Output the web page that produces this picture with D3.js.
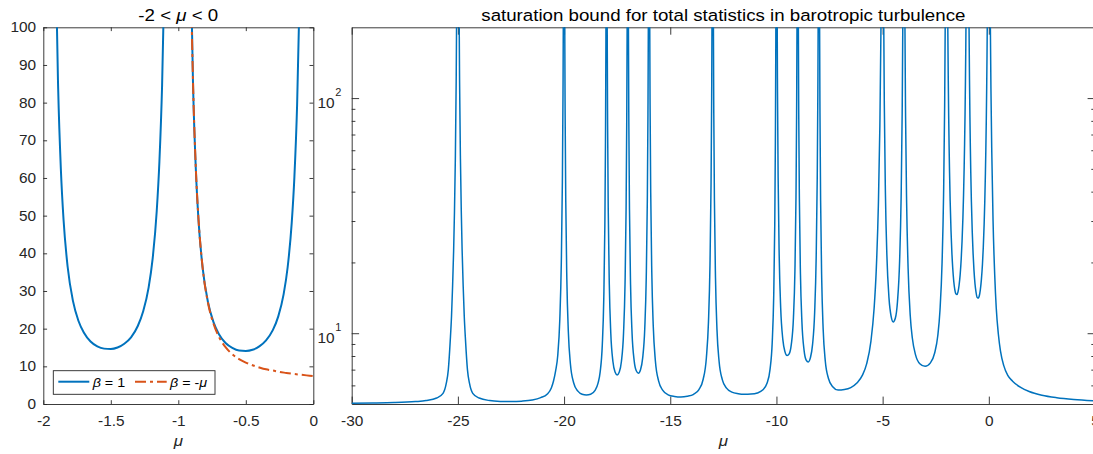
<!DOCTYPE html>
<html>
<head>
<meta charset="utf-8">
<script src="https://cdn.jsdelivr.net/npm/d3@7"></script>
<style>
  body { margin: 0; background: #fff; }
  text { font-family: "Liberation Sans", Arial, Helvetica, sans-serif; fill: #262626; }
</style>
</head>
<body>
<div id="chart"></div>
<script>
"use strict";

// ---- data ----

// left panel, beta = 1, between the poles at -2 and -1
const muM2M1 = [-1.985, -1.97, -1.95, -1.93, -1.91, -1.89, -1.87, -1.85, -1.82, -1.78, -1.74, -1.70, -1.65, -1.60, -1.55, -1.50,
    -1.45, -1.40, -1.35, -1.30, -1.26, -1.22, -1.19, -1.16, -1.14, -1.12, -1.10, -1.085, -1.07, -1.05, -1.03, -1.015];
const betaOneM2M1 = [4097, 1030, 376, 195.5, 121.4, 83.9, 62.4, 48.9, 36.5, 27.3, 22.1, 19.0, 16.6, 15.3, 14.7, 14.6,
    15.0, 16.0, 17.7, 20.7, 24.6, 30.9, 38.6, 51.1, 64.3, 84.6, 118.4, 161, 233.6, 450.5, 1238, 4931];

// beta = 1, between -1 and 0
const muM1Z = [-0.985, -0.97, -0.95, -0.93, -0.91, -0.89, -0.87, -0.85, -0.82, -0.78, -0.74, -0.70, -0.65, -0.60, -0.55, -0.50,
    -0.45, -0.40, -0.35, -0.30, -0.26, -0.22, -0.19, -0.16, -0.14, -0.12, -0.10, -0.085, -0.07, -0.05, -0.03, -0.015];
const betaOneM1Z = [4105, 1031, 376, 195.6, 121.4, 83.7, 62.2, 48.6, 36.2, 27.0, 21.8, 18.6, 16.2, 14.9, 14.2, 14.1,
    14.4, 15.3, 16.9, 19.6, 23.2, 29.1, 36.3, 48.0, 60.3, 79.3, 110.9, 150.6, 218.5, 421, 1157, 4607];

// beta = -mu
const muOrange = [-0.93, -0.91, -0.89, -0.87, -0.85, -0.82, -0.78, -0.74, -0.70, -0.65, -0.60, -0.55, -0.50,
    -0.45, -0.40, -0.35, -0.30, -0.25, -0.20, -0.15, -0.10, -0.05, 0];
const betaMinusMu = [196.2, 121.9, 84.2, 62.5, 48.9, 36.3, 26.8, 21.4, 17.9, 15.1, 13.2, 11.9, 11.0,
    10.3, 9.7, 9.2, 8.9, 8.5, 8.25, 8.0, 7.8, 7.6, 7.4];

// right panel, total statistics bound, one list of [mu, bound] per gap between poles
const totalM30M25 = [[-30, 5.04], [-29, 5.05], [-28, 5.07], [-27, 5.12], [-26.5, 5.17], [-26, 5.3], [-25.7, 5.55], [-25.55, 6.1],
    [-25.45, 7.0], [-25.36, 9.3], [-25.3, 11.8], [-25.25, 15.8], [-25.2, 22.5], [-25.16, 33], [-25.12, 55], [-25.08, 118],
    [-25.05, 300], [-25.03, 830], [-25.015, 3000]];
const totalM25M20 = [[-24.985, 3000], [-24.97, 830], [-24.95, 300], [-24.92, 118], [-24.88, 55], [-24.84, 33], [-24.8, 22.5],
    [-24.75, 15.8], [-24.7, 11.8], [-24.64, 9.3], [-24.55, 7.0], [-24.45, 6.1], [-24.3, 5.55], [-24, 5.3], [-23.5, 5.17],
    [-23, 5.13], [-22.5, 5.12], [-22, 5.14], [-21.5, 5.2], [-21.1, 5.32], [-20.8, 5.5], [-20.6, 5.85], [-20.5, 6.25],
    [-20.4, 6.9], [-20.3, 8.0], [-20.2, 11.5], [-20.13, 20], [-20.08, 44], [-20.05, 105], [-20.03, 283], [-20.015, 1116]];
const totalM20M18 = [[-19.985, 894], [-19.97, 227], [-19.95, 85.1], [-19.92, 36.4], [-19.87, 17], [-19.8, 10.2], [-19.7, 7.38],
    [-19.55, 6.16], [-19.35, 5.67], [-19.15, 5.5], [-18.95, 5.46], [-18.75, 5.5], [-18.55, 5.7], [-18.4, 6.13], [-18.3, 6.85],
    [-18.2, 8.92], [-18.13, 14.05], [-18.08, 28.6], [-18.05, 65.2], [-18.03, 172], [-18.015, 672]];
const totalM18M17 = [[-17.985, 805], [-17.97, 205], [-17.95, 77.4], [-17.92, 33.5], [-17.87, 16.1], [-17.8, 10.0], [-17.7, 7.58],
    [-17.6, 6.84], [-17.5, 6.65], [-17.4, 6.84], [-17.3, 7.58], [-17.2, 10.0], [-17.13, 16.1], [-17.08, 33.5], [-17.05, 77.4],
    [-17.03, 205], [-17.015, 805]];
const totalM17M16 = [[-16.985, 805], [-16.97, 205.5], [-16.95, 77.5], [-16.92, 33.6], [-16.87, 16.15], [-16.8, 10.05], [-16.7, 7.65],
    [-16.6, 6.92], [-16.5, 6.76], [-16.4, 6.99], [-16.3, 7.83], [-16.2, 10.5], [-16.13, 17.3], [-16.08, 36.7], [-16.05, 85.4],
    [-16.03, 227], [-16.015, 894]];
const totalM16M13 = [[-15.985, 983], [-15.97, 249], [-15.95, 93.2], [-15.92, 39.6], [-15.87, 18.2], [-15.8, 10.7], [-15.7, 7.62],
    [-15.55, 6.27], [-15.35, 5.71], [-15.1, 5.47], [-14.8, 5.38], [-14.5, 5.35], [-14.2, 5.39], [-13.9, 5.5], [-13.65, 5.76],
    [-13.45, 6.37], [-13.3, 7.85], [-13.2, 11.2], [-13.13, 19.4], [-13.08, 42.7], [-13.05, 101], [-13.03, 272], [-13.015, 1072]];
const totalM13M10 = [[-12.985, 894], [-12.97, 227.5], [-12.95, 85.4], [-12.92, 36.6], [-12.87, 17.2], [-12.8, 10.36], [-12.7, 7.58],
    [-12.55, 6.35], [-12.35, 5.84], [-12.1, 5.62], [-11.8, 5.53], [-11.5, 5.5], [-11.2, 5.51], [-10.9, 5.57], [-10.65, 5.73],
    [-10.45, 6.11], [-10.3, 7.04], [-10.2, 9.1], [-10.13, 14.2], [-10.08, 28.8], [-10.05, 65.3], [-10.03, 172], [-10.015, 672]];
const totalM10M9 = [[-9.985, 1117], [-9.97, 284], [-9.95, 106.5], [-9.92, 45.6], [-9.87, 21.3], [-9.8, 12.8], [-9.7, 9.42],
    [-9.6, 8.35], [-9.5, 8.03], [-9.4, 8.17], [-9.3, 8.96], [-9.2, 11.6], [-9.13, 18.4], [-9.08, 37.8], [-9.05, 86.5],
    [-9.03, 228.5], [-9.015, 895]];
const totalM9M8 = [[-8.985, 895], [-8.97, 228], [-8.95, 86], [-8.92, 37.3], [-8.87, 17.9], [-8.8, 11.14], [-8.7, 8.48],
    [-8.6, 7.69], [-8.5, 7.55], [-8.4, 7.87], [-8.3, 8.94], [-8.2, 12.3], [-8.13, 20.8], [-8.08, 45.1], [-8.05, 106],
    [-8.03, 284], [-8.015, 1117]];
const totalM8M5 = [[-7.985, 894], [-7.97, 227], [-7.95, 85.4], [-7.92, 36.7], [-7.87, 17.2], [-7.8, 10.4], [-7.7, 7.62],
    [-7.55, 6.42], [-7.35, 5.92], [-7.1, 5.73], [-6.8, 5.76], [-6.5, 5.87], [-6.2, 6.15], [-5.95, 6.63], [-5.75, 7.42],
    [-5.55, 9.26], [-5.4, 12.8], [-5.3, 18.6], [-5.2, 35.3], [-5.13, 76.3], [-5.08, 193], [-5.05, 485], [-5.03, 1338]];
const totalM5M4 = [[-4.985, 2451], [-4.97, 618], [-4.95, 227.5], [-4.92, 93.5], [-4.87, 40.1], [-4.8, 21.5], [-4.7, 14.1],
    [-4.6, 11.8], [-4.5, 11.17], [-4.4, 11.6], [-4.3, 13.65], [-4.2, 20.3], [-4.13, 37.3], [-4.08, 85.7], [-4.05, 207.6],
    [-4.03, 563.6], [-4.015, 2230]];
const totalM4M2 = [[-3.985, 2228], [-3.97, 562], [-3.95, 206], [-3.92, 84.4], [-3.87, 35.9], [-3.8, 18.85], [-3.7, 11.9],
    [-3.6, 9.52], [-3.45, 8.09], [-3.25, 7.42], [-3, 7.23], [-2.75, 7.48], [-2.55, 8.24], [-2.4, 9.8], [-2.3, 12.5],
    [-2.2, 20.1], [-2.13, 38.8], [-2.08, 92.2], [-2.05, 226], [-2.03, 617], [-2.015, 2450]];
const totalZ5 = [[0.015, 4607], [0.03, 1156], [0.05, 420], [0.07, 217], [0.1, 109.5], [0.14, 58.7], [0.2, 30], [0.28, 17.5],
    [0.35, 12.8], [0.45, 9.9], [0.55, 8.4], [0.7, 7.3], [0.9, 6.6], [1.12, 6.25], [1.5, 5.88], [1.9, 5.65], [2.5, 5.45],
    [3.2, 5.32], [4, 5.23], [5, 5.16]];

// tick labels
const leftXTicks = [-2, -1.5, -1, -0.5, 0];
const leftYTicks = [0, 10, 20, 30, 40, 50, 60, 70, 80, 90, 100];
const rightXTicks = [-30, -25, -20, -15, -10, -5, 0, 5];
const rightYMajor = [10, 100];
const rightYMinor = [6, 7, 8, 9, 20, 30, 40, 50, 60, 70, 80, 90];

// ---- layout ----
const svgWidth = 1093,
    svgHeight = 454;

const COLOR = { blue: "#0072BD", orange: "#D95319", axis: "#262626" };
const plotTop = 27.3,
    plotBottom = 404;
const leftBox = { x0: 43.3, x1: 313.3 };
const rightBox = { x0: 351.7, x1: 1095 };
const dashDot = "11,4,3,4";
const STRETCH = "scale(1.1,1)"; // exported helvetica is a little wider than liberation sans

const svg = d3.select("#chart").append("svg")
    .attr("width", svgWidth)
    .attr("height", svgHeight)
    .style("display", "block")
    .style("background", "#fff");

// scales
const xLeft = d3.scaleLinear().domain([-2, 0]).range([leftBox.x0, leftBox.x1]);
const yLeft = d3.scaleLinear().domain([0, 100]).range([plotBottom, plotTop]);
const xRight = d3.scaleLinear().domain([-30, 5]).range([rightBox.x0, rightBox.x1]);
const yRight = d3.scaleLog().domain([5, 200]).range([plotBottom, plotTop]);

const fmt = d => String(d); // plain hyphen minus like matlab

// clip paths
const defs = svg.append("defs");
[["clipLeft", leftBox], ["clipRight", rightBox]].forEach(([id, box]) => {
    defs.append("clipPath").attr("id", id)
        .append("rect")
        .attr("x", box.x0).attr("y", plotTop)
        .attr("width", box.x1 - box.x0).attr("height", plotBottom - plotTop);
});

// style an axis group the matlab way
function styleAxis(g, fontSize) {
    g.select(".domain").attr("stroke", COLOR.axis).attr("stroke-width", 0.9);
    g.selectAll(".tick line").attr("stroke", COLOR.axis).attr("stroke-width", 0.9);
    g.selectAll(".tick text")
        .attr("fill", COLOR.axis)
        .attr("font-size", fontSize)
        .attr("font-family", null)
        .attr("transform", STRETCH);
    g.attr("font-family", null);
}

// ---- left panel ----
const left = svg.append("g");

left.append("g")
    .attr("transform", "translate(0," + plotBottom + ")")
    .call(d3.axisBottom(xLeft).tickValues(leftXTicks).tickFormat(fmt).tickSize(-3.8).tickSizeOuter(0).tickPadding(12))
    .call(g => styleAxis(g, 14));
left.append("g")
    .attr("transform", "translate(0," + plotTop + ")")
    .call(d3.axisTop(xLeft).tickValues(leftXTicks).tickFormat("").tickSize(-3.8).tickSizeOuter(0))
    .call(g => styleAxis(g, 14));
left.append("g")
    .attr("transform", "translate(" + leftBox.x0 + ",0)")
    .call(d3.axisLeft(yLeft).tickValues(leftYTicks).tickFormat(fmt).tickSize(-3.8).tickSizeOuter(0).tickPadding(6.5))
    .call(g => styleAxis(g, 14));
left.append("g")
    .attr("transform", "translate(" + leftBox.x1 + ",0)")
    .call(d3.axisRight(yLeft).tickValues(leftYTicks).tickFormat("").tickSize(-3.8).tickSizeOuter(0))
    .call(g => styleAxis(g, 14));

const lineLeft = d3.line()
    .x(d => xLeft(d[0]))
    .y(d => yLeft(d[1]))
    .curve(d3.curveMonotoneX);

const betaOne = d3.zip(muM2M1, betaOneM2M1).concat(d3.zip(muM1Z, betaOneM1Z));

const leftPlot = left.append("g").attr("clip-path", "url(#clipLeft)");
leftPlot.append("path")
    .datum(betaOne)
    .attr("d", lineLeft)
    .attr("fill", "none")
    .attr("stroke", COLOR.blue)
    .attr("stroke-width", 2);
leftPlot.append("path")
    .datum(d3.zip(muOrange, betaMinusMu))
    .attr("d", lineLeft)
    .attr("fill", "none")
    .attr("stroke", COLOR.orange)
    .attr("stroke-width", 2)
    .attr("stroke-dasharray", dashDot);

// titles and labels: text with italic greek parts
function richText(parent, x, y, parts, size, anchor, color) {
    const t = parent.append("text")
        .attr("transform", "translate(" + x + "," + y + ") " + STRETCH)
        .attr("text-anchor", anchor)
        .attr("font-size", size)
        .attr("fill", color);
    parts.forEach(p => {
        t.append("tspan")
            .attr("font-style", p.italic ? "italic" : "normal")
            .style("fill", color)
            .text(p.text);
    });
    return t;
}

richText(left, (leftBox.x0 + leftBox.x1) / 2, 20.7,
    [{ text: "-2 < " }, { text: "μ", italic: true }, { text: " < 0" }], 17, "middle", "#000");
richText(left, (leftBox.x0 + leftBox.x1) / 2, 446, [{ text: "μ", italic: true }], 15.4, "middle", COLOR.axis);

// legend
const legend = left.append("g");
legend.append("rect")
    .attr("x", 53.3).attr("y", 370.7)
    .attr("width", 161.7).attr("height", 23.6)
    .attr("fill", "#fff")
    .attr("stroke", COLOR.axis)
    .attr("stroke-width", 0.9);
legend.append("line")
    .attr("x1", 58.3).attr("x2", 89.3).attr("y1", 381.7).attr("y2", 381.7)
    .attr("stroke", COLOR.blue).attr("stroke-width", 2);
richText(legend, 92.7, 386.7, [{ text: "β", italic: true }, { text: " = 1" }], 13, "start", "#000");
legend.append("line")
    .attr("x1", 135).attr("x2", 166.7).attr("y1", 381.7).attr("y2", 381.7)
    .attr("stroke", COLOR.orange).attr("stroke-width", 2)
    .attr("stroke-dasharray", dashDot);
richText(legend, 170, 386.7, [{ text: "β", italic: true }, { text: " = -" }, { text: "μ", italic: true }], 13, "start", "#000");

// ---- right panel ----
const right = svg.append("g");

right.append("g")
    .attr("transform", "translate(0," + plotBottom + ")")
    .call(d3.axisBottom(xRight).tickValues(rightXTicks).tickFormat(fmt).tickSize(-7.4).tickSizeOuter(0).tickPadding(12))
    .call(g => styleAxis(g, 14));
right.append("g")
    .attr("transform", "translate(0," + plotTop + ")")
    .call(d3.axisTop(xRight).tickValues(rightXTicks).tickFormat("").tickSize(-7.4).tickSizeOuter(0))
    .call(g => styleAxis(g, 14));

[[rightBox.x0, d3.axisLeft], [rightBox.x1, d3.axisRight]].forEach(([x, axisFn]) => {
    right.append("g")
        .attr("transform", "translate(" + x + ",0)")
        .call(axisFn(yRight).tickValues(rightYMajor).tickFormat("").tickSize(-7.4).tickSizeOuter(0))
        .call(g => styleAxis(g, 14));
    right.append("g")
        .attr("transform", "translate(" + x + ",0)")
        .call(axisFn(yRight).tickValues(rightYMinor).tickFormat("").tickSize(-3.7).tickSizeOuter(0))
        .call(g => styleAxis(g, 14))
        .call(g => g.select(".domain").remove());
});

// 10^n labels
rightYMajor.forEach(v => {
    const y = yRight(v);
    right.append("text")
        .attr("transform", "translate(334.5," + (y + 9.5) + ") " + STRETCH)
        .attr("text-anchor", "end")
        .attr("font-size", 14)
        .text("10");
    right.append("text")
        .attr("transform", "translate(335.3," + (y - 2.5) + ") " + STRETCH)
        .attr("font-size", 10)
        .text(String(Math.round(Math.log10(v))));
});

const lineRight = d3.line()
    .x(d => xRight(d[0]))
    .y(d => yRight(d[1]))
    .curve(d3.curveMonotoneX);

const total = [].concat(totalM30M25, totalM25M20, totalM20M18, totalM18M17, totalM17M16, totalM16M13,
    totalM13M10, totalM10M9, totalM9M8, totalM8M5, totalM5M4, totalM4M2, betaOne, totalZ5);

right.append("g").attr("clip-path", "url(#clipRight)")
    .append("path")
    .datum(total)
    .attr("d", lineRight)
    .attr("fill", "none")
    .attr("stroke", COLOR.blue)
    .attr("stroke-width", 1.5);

richText(right, (rightBox.x0 + rightBox.x1) / 2, 20.7,
    [{ text: "saturation bound for total statistics in barotropic turbulence" }], 17, "middle", "#000");
richText(right, (rightBox.x0 + rightBox.x1) / 2, 446, [{ text: "μ", italic: true }], 15.4, "middle", COLOR.axis);
</script>
</body>
</html>
